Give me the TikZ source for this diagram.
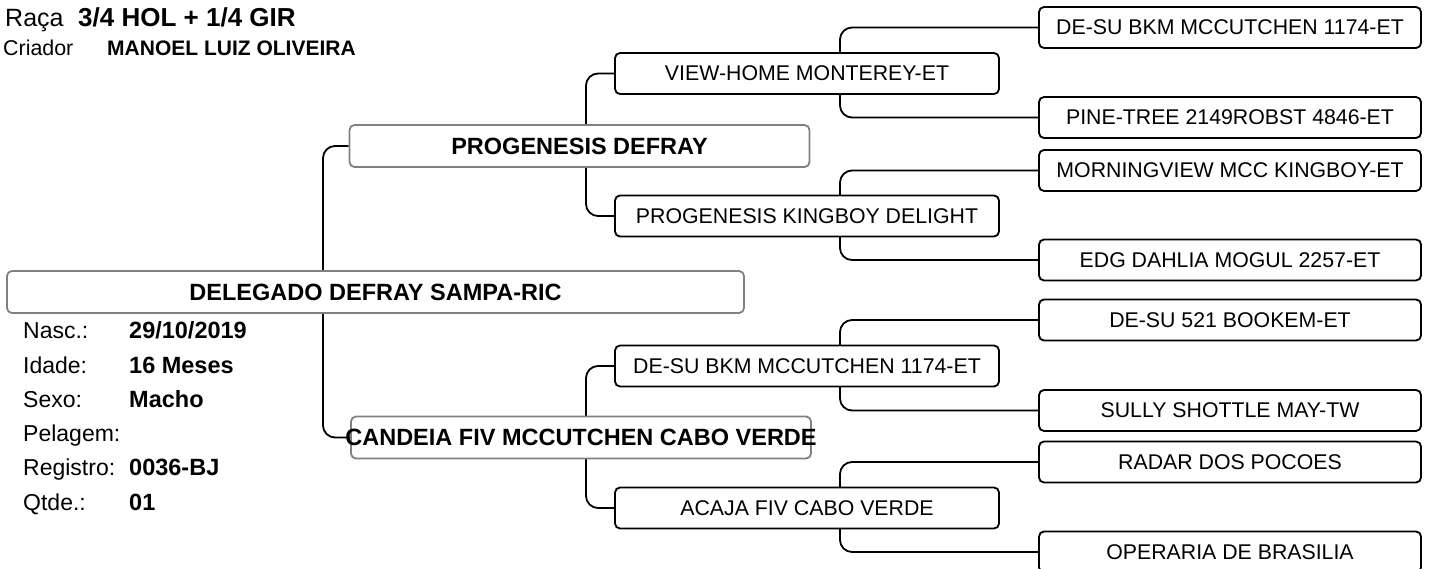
\documentclass[tikz,border=0pt]{standalone}
\usepackage{fontspec}
\setmainfont{Liberation Sans}
\usetikzlibrary{positioning, backgrounds}

\begin{document}
\begin{tikzpicture}[
  x=1pt, y=-1pt,
  animal/.style = {draw=black!50, rounded corners=5pt, minimum width=737pt,
                   minimum height=42pt, inner sep=0pt, fill=white,
                   font=\fontsize{23.5}{28}\selectfont\bfseries,
                   line width=1.8pt},
  parent/.style = {animal, minimum width=460pt},
  grand/.style  = {draw, rounded corners=5pt, minimum width=384pt,
                   minimum height=41pt, inner sep=0pt, fill=white,
                   font=\fontsize{21.3}{26}\selectfont, line width=1.8pt},
  great/.style  = {grand, minimum width=382pt},
  link/.style   = {line width=1.8pt, rounded corners=12pt},
  lbl/.style    = {anchor=base west, inner sep=0pt,
                   font=\fontsize{23}{28}\selectfont},
  val/.style    = {anchor=base west, inner sep=0pt,
                   font=\fontsize{23.5}{28}\selectfont\bfseries},
]
\useasboundingbox (0,0) rectangle (1431,569);

%% Header
\node[anchor=base west, inner sep=0pt, font=\fontsize{25}{30}\selectfont]
     (raca) at (5, 27) {Raça};
\node[anchor=base west, inner sep=0pt, font=\fontsize{26}{30}\selectfont\bfseries]
     (breed) at (78, 27) {3/4 HOL + 1/4 GIR};
\node[anchor=base west, inner sep=0pt, font=\fontsize{21.4}{26}\selectfont]
     (criador) at (3, 56) {Criador};
\node[anchor=base west, inner sep=0pt, font=\fontsize{21}{26}\selectfont\bfseries]
     (breeder) at (107, 56) {MANOEL LUIZ OLIVEIRA};

%% Animal
\node[animal] (subj) at (375.5, 292) {DELEGADO DEFRAY SAMPA-RIC};

\node[lbl] (nasc)  at (23, 338) {Nasc.:};
\node[lbl] (idade) at (23, 373) {Idade:};
\node[lbl] (sexo)  at (23, 407) {Sexo:};
\node[lbl] (pel)   at (23, 441) {Pelagem:};
\node[lbl] (reg)   at (23, 475) {Registro:};
\node[lbl] (qtde)  at (23, 510) {Qtde.:};
\node[val] (nascv)  at (129, 338) {29/10/2019};
\node[val] (idadev) at (129, 373) {16 Meses};
\node[val] (sexov)  at (129, 407) {Macho};
\node[val] (regv)   at (129, 475) {0036-BJ};
\node[val] (qtdev)  at (129, 510) {01};

%% Parents
\node[parent] (sire) at (579.5, 146) {PROGENESIS DEFRAY};
\node[parent] (dam)  at (581, 437.5)
     {\makebox[0pt]{CANDEIA FIV MCCUTCHEN CABO VERDE}};

%% Grandparents
\node[grand] (ss) at (807, 73.5) {VIEW-HOME MONTEREY-ET};
\node[grand] (sd) at (807, 216)  {PROGENESIS KINGBOY DELIGHT};
\node[grand] (ds) at (807, 366)  {DE-SU BKM MCCUTCHEN 1174-ET};
\node[grand] (dd) at (807, 508)  {ACAJA FIV CABO VERDE};

%% Great-grandparents
\node[great] (sss) at (1230, 27.5)  {DE-SU BKM MCCUTCHEN 1174-ET};
\node[great] (ssd) at (1230, 117.5) {PINE-TREE 2149ROBST 4846-ET};
\node[great] (sds) at (1230, 170.5) {MORNINGVIEW MCC KINGBOY-ET};
\node[great] (sdd) at (1230, 260)   {EDG DAHLIA MOGUL 2257-ET};
\node[great] (dss) at (1230, 320)   {DE-SU 521 BOOKEM-ET};
\node[great] (dsd) at (1230, 410.5) {SULLY SHOTTLE MAY-TW};
\node[great] (dds) at (1230, 462)   {RADAR DOS POCOES};
\node[great] (ddd) at (1230, 552)   {OPERARIA DE BRASILIA};

%% Forks
\coordinate (fork)   at (323, 292);
\coordinate (forks)  at (586, 146);
\coordinate (forkd)  at (586, 437);
\coordinate (forkss) at (840, 73);
\coordinate (forksd) at (840, 216);
\coordinate (forkds) at (840, 366);
\coordinate (forkdd) at (840, 508);

\begin{scope}[on background layer]
  \draw[link] (sire.west) -| (fork)   |- (dam.west);
  \draw[link] (ss.west)   -| (forks)  |- (sd.west);
  \draw[link] (ds.west)   -| (forkd)  |- (dd.west);
  \draw[link] (sss.west)  -| (forkss) |- (ssd.west);
  \draw[link] (sds.west)  -| (forksd) |- (sdd.west);
  \draw[link] (dss.west)  -| (forkds) |- (dsd.west);
  \draw[link] (dds.west)  -| (forkdd) |- (ddd.west);
\end{scope}

\end{tikzpicture}
\end{document}
